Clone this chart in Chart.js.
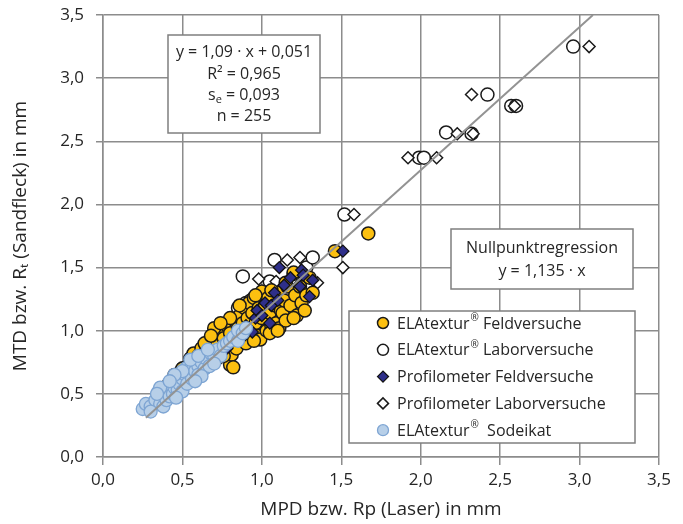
<!DOCTYPE html>
<html>
<head>
<meta charset="utf-8">
<script src="https://cdn.jsdelivr.net/npm/chart.js@4.4.0/dist/chart.umd.min.js"></script>
<style>
html, body { margin: 0; padding: 0; background: #fff; }
</style>
</head>
<body>
<canvas id="chart" width="683" height="524"></canvas>
<script>
// ELAtextur Feldversuche (gelb)
const feldX = [0.45,0.48,0.50,0.52,0.55,0.57,0.58,0.60,0.62,0.63,0.65,0.66,0.68,0.70,0.70,0.72,0.74,0.75,0.76,0.78,0.78,0.80,0.80,0.81,0.82,0.83,0.84,0.85,0.86,0.87,0.88,0.89,0.90,0.91,0.92,0.93,0.94,0.95,0.96,0.97,0.98,0.99,1.00,1.00,1.02,1.03,1.04,1.05,1.06,1.08,1.09,1.10,1.11,1.12,1.13,1.14,1.15,1.16,1.18,1.20,1.21,1.22,1.24,1.25,1.28,1.30,1.32,1.46,1.67,
    0.72,0.76,0.84,0.90,0.95,1.05,1.10,1.20,1.27,0.70,0.80,0.86,0.96,1.06,1.15,0.64,0.68,0.74];
const feldY = [0.62,0.58,0.70,0.66,0.78,0.82,0.72,0.80,0.86,0.76,0.88,0.82,0.92,0.86,0.96,0.90,1.00,0.84,0.94,0.89,1.04,0.73,0.98,0.81,0.71,1.08,0.94,1.02,1.12,0.90,1.06,1.18,0.98,1.10,1.22,1.02,1.14,1.26,1.06,0.96,1.18,0.93,1.31,1.10,1.20,1.00,1.26,1.14,1.04,1.20,1.06,1.30,1.02,1.16,1.14,1.24,1.08,1.35,1.20,1.46,1.28,1.12,1.35,1.22,1.28,1.42,1.30,1.63,1.77,
    0.78,0.80,0.86,0.90,0.92,0.98,1.00,1.10,1.16,1.02,1.10,1.20,1.28,1.32,1.38,0.90,0.96,1.06];

// ELAtextur Laborversuche (weiße Kreise)
const laborX = [0.35,0.40,0.45,0.50,0.55,0.60,0.65,0.70,0.75,0.80,0.85,0.88,0.90,0.93,0.96,1.00,1.05,1.08,1.20,1.28,1.32,1.52,1.99,2.02,2.16,2.32,2.42,2.57,2.60,2.96];
const laborY = [0.48,0.56,0.65,0.70,0.75,0.82,0.90,0.95,1.00,1.05,1.18,1.43,1.22,1.24,1.25,1.22,1.39,1.56,1.45,1.50,1.58,1.92,2.37,2.37,2.57,2.56,2.87,2.78,2.78,3.25];

// Profilometer Feldversuche (blaue Rauten)
const profFeldX = [0.55,0.62,0.68,0.72,0.78,0.82,0.86,0.88,0.90,0.94,0.96,0.97,1.00,1.02,1.05,1.06,1.08,1.10,1.11,1.14,1.18,1.24,1.25,1.26,1.30,1.32,1.51];
const profFeldY = [0.62,0.70,0.76,0.82,0.86,0.92,0.98,0.95,1.04,0.99,1.10,1.16,1.12,1.22,1.06,1.20,1.30,1.24,1.50,1.36,1.42,1.35,1.48,1.44,1.27,1.40,1.63];

// Profilometer Laborversuche (weiße Rauten)
const profLaborX = [0.75,0.82,0.88,0.92,0.95,0.98,1.00,1.09,1.16,1.24,1.30,1.35,1.51,1.58,1.92,2.10,2.23,2.33,2.32,2.59,3.06];
const profLaborY = [0.96,1.02,1.10,1.15,1.22,1.41,1.20,1.39,1.56,1.58,1.35,1.38,1.50,1.92,2.37,2.37,2.56,2.56,2.87,2.78,3.25];

// ELAtextur Sodeikat (hellblau)
const sodX = [0.25,0.27,0.30,0.33,0.35,0.36,0.38,0.40,0.40,0.42,0.44,0.45,0.45,0.47,0.48,0.50,0.50,0.52,0.52,0.53,0.55,0.56,0.58,0.60,0.60,0.62,0.64,0.65,0.67,0.68,0.70,0.72,0.74,0.76,0.78,0.80,0.82,0.85,0.85,0.88,0.90,
    0.55,0.50,0.45,0.60,0.66,0.36,0.34,0.42,0.70,0.62,0.58,0.46,0.30];
const sodY = [0.38,0.42,0.40,0.45,0.52,0.42,0.40,0.45,0.55,0.48,0.50,0.55,0.60,0.53,0.58,0.52,0.62,0.65,0.70,0.58,0.70,0.62,0.68,0.72,0.65,0.75,0.70,0.78,0.72,0.82,0.80,0.85,0.80,0.88,0.90,0.92,0.95,0.92,1.00,0.98,1.02,
    0.77,0.68,0.65,0.80,0.85,0.55,0.50,0.60,0.74,0.64,0.60,0.47,0.36];

// Nullpunktregression y = 1,135 · x
const fitX = [0.27, 3.084];
const fitY = [0.31, 3.5];

const axisTicks = [0, 0.5, 1, 1.5, 2, 2.5, 3, 3.5];

const textColor = '#262626';
const gridColor = '#8c8c8c';
const fontFamily = "'Open Sans', 'DejaVu Sans', sans-serif";

function toPoints(xs, ys) {
    return xs.map((x, i) => ({ x: x, y: ys[i] }));
}

const fmt = v => v.toFixed(1).replace('.', ',');

const datasets = [
    {
        type: 'line',
        label: 'Nullpunktregression',
        data: toPoints(fitX, fitY),
        borderColor: '#939393',
        borderWidth: 2,
        pointRadius: 0
    },
    {
        label: 'ELAtextur® Sodeikat',
        legendText: 'ELAtextur®  Sodeikat',
        data: toPoints(sodX, sodY),
        backgroundColor: '#b7cfe8',
        borderColor: '#7ea5d3',
        borderWidth: 1.3,
        pointStyle: 'circle',
        pointRadius: 6.5,
        legendOrder: 4
    },
    {
        label: 'Profilometer Feldversuche',
        data: toPoints(profFeldX, profFeldY),
        backgroundColor: '#2e2f8a',
        borderColor: '#111111',
        borderWidth: 1.3,
        pointStyle: 'rectRot',
        pointRadius: 6,
        legendOrder: 2
    },
    {
        label: 'ELAtextur® Feldversuche',
        data: toPoints(feldX, feldY),
        backgroundColor: '#fcc010',
        borderColor: '#1a1a1a',
        borderWidth: 1.5,
        pointStyle: 'circle',
        pointRadius: 6.5,
        legendOrder: 0
    },
    {
        label: 'Profilometer Laborversuche',
        data: toPoints(profLaborX, profLaborY),
        backgroundColor: '#ffffff',
        borderColor: '#1a1a1a',
        borderWidth: 1.5,
        pointStyle: 'rectRot',
        pointRadius: 6,
        legendOrder: 3
    },
    {
        label: 'ELAtextur® Laborversuche',
        data: toPoints(laborX, laborY),
        backgroundColor: '#ffffff',
        borderColor: '#1a1a1a',
        borderWidth: 1.5,
        pointStyle: 'circle',
        pointRadius: 6.5,
        legendOrder: 1
    }
];

// text with small raised ® sign
function drawRich(ctx, text, x, y, size) {
    const parts = text.split('®');
    let cx = x;
    parts.forEach((p, i) => {
        ctx.font = size + 'px ' + fontFamily;
        ctx.fillText(p, cx, y);
        cx += ctx.measureText(p).width;
        if (i < parts.length - 1) {
            ctx.font = Math.round(size * 0.6) + 'px ' + fontFamily;
            ctx.fillText('®', cx + 1, y - size * 0.35);
            cx += ctx.measureText('®').width + 1;
        }
    });
}

function drawBox(ctx, x, y, w, h) {
    ctx.fillStyle = '#ffffff';
    ctx.fillRect(x, y, w, h);
    ctx.strokeStyle = '#7f7f7f';
    ctx.lineWidth = 1.5;
    ctx.strokeRect(x, y, w, h);
}

const boxesPlugin = {
    id: 'boxes',
    afterDatasetsDraw(chart) {
        const ctx = chart.ctx;
        ctx.save();
        ctx.textBaseline = 'middle';

        // Regressionsbox
        drawBox(ctx, 168, 35, 152, 98);
        ctx.fillStyle = textColor;
        ctx.textAlign = 'center';
        ctx.font = '16px ' + fontFamily;
        const cx = 244;
        ctx.fillText('y = 1,09 · x + 0,051', cx, 52);
        ctx.fillText('R² = 0,965', cx, 74);
        // s_e mit Index
        const rest = ' = 0,093';
        ctx.font = '16px ' + fontFamily;
        const wS = ctx.measureText('s').width;
        const wR = ctx.measureText(rest).width;
        ctx.font = '11px ' + fontFamily;
        const wE = ctx.measureText('e').width;
        let sx = cx - (wS + wE + wR) / 2;
        ctx.textAlign = 'left';
        ctx.font = '16px ' + fontFamily;
        ctx.fillText('s', sx, 95);
        ctx.font = '11px ' + fontFamily;
        ctx.fillText('e', sx + wS, 100);
        ctx.font = '16px ' + fontFamily;
        ctx.fillText(rest, sx + wS + wE, 95);
        ctx.textAlign = 'center';
        ctx.fillText('n = 255', cx, 116);

        // Nullpunktregression
        drawBox(ctx, 451, 229, 182, 60);
        ctx.fillStyle = textColor;
        ctx.fillText('Nullpunktregression', 542, 248);
        ctx.fillText('y = 1,135 · x', 542, 271);

        // Legende
        drawBox(ctx, 349, 311, 286, 132);
        const items = chart.data.datasets.filter(d => d.legendOrder !== undefined)
            .sort((a, b) => a.legendOrder - b.legendOrder);
        items.forEach((d, i) => {
            const y = 323 + i * 26.8;
            ctx.fillStyle = d.backgroundColor;
            ctx.strokeStyle = d.borderColor;
            ctx.lineWidth = d.borderWidth;
            Chart.helpers.drawPoint(ctx, {
                pointStyle: d.pointStyle,
                radius: 5.5,
                borderWidth: d.borderWidth,
                rotation: 0
            }, 383, y);
            ctx.fillStyle = textColor;
            ctx.textAlign = 'left';
            drawRich(ctx, d.legendText || d.label, 397, y + 1, 16);
        });
        ctx.restore();
    }
};

new Chart(document.getElementById('chart'), {
    type: 'scatter',
    data: { datasets: datasets },
    options: {
        responsive: false,
        animation: false,
        layout: { padding: { top: 15, right: 24, left: 0, bottom: 0 } },
        plugins: {
            legend: { display: false },
            tooltip: { enabled: false }
        },
        scales: {
            x: {
                type: 'linear',
                min: 0,
                max: 3.5,
                afterBuildTicks: s => { s.ticks = axisTicks.map(v => ({ value: v })); },
                afterFit: s => { s.height = 67; s.paddingLeft = 0; s.paddingRight = 0; },
                ticks: {
                    callback: fmt,
                    color: textColor,
                    font: { family: fontFamily, size: 17 },
                    padding: 5
                },
                grid: { color: gridColor, lineWidth: 1.5, tickLength: 8 },
                border: { color: gridColor, width: 1.5 },
                title: {
                    display: true,
                    text: 'MPD bzw. Rp (Laser) in mm',
                    color: textColor,
                    font: { family: fontFamily, size: 19 },
                    padding: { top: 0, bottom: 3 }
                }
            },
            y: {
                type: 'linear',
                min: 0,
                max: 3.5,
                afterBuildTicks: s => { s.ticks = axisTicks.map(v => ({ value: v })); },
                afterFit: s => { s.width = 103; s.paddingTop = 0; s.paddingBottom = 0; },
                ticks: {
                    callback: fmt,
                    color: textColor,
                    font: { family: fontFamily, size: 17 },
                    padding: 12
                },
                grid: { color: gridColor, lineWidth: 1.5, tickLength: 7 },
                border: { color: gridColor, width: 1.5 },
                title: {
                    display: true,
                    text: 'MTD bzw. Rₜ (Sandfleck) in mm',
                    color: textColor,
                    font: { family: fontFamily, size: 19 },
                    padding: { top: 9, bottom: 0 }
                }
            }
        }
    },
    plugins: [boxesPlugin]
});
</script>
</body>
</html>
